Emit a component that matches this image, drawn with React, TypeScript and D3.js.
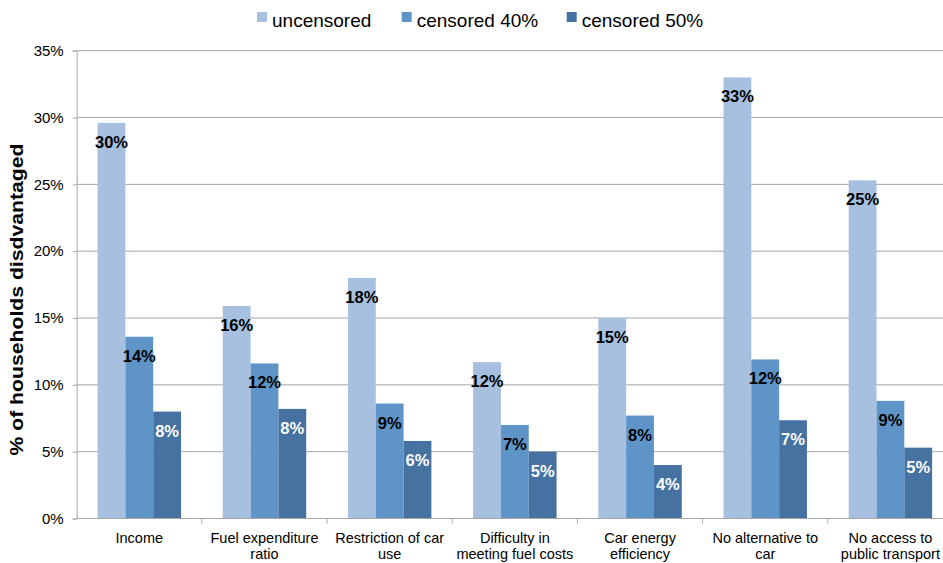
import * as d3 from "d3";
import { useEffect, useRef } from "react";

const categories: string[][] = [
  ["Income"],
  ["Fuel expenditure", "ratio"],
  ["Restriction of car", "use"],
  ["Difficulty in", "meeting fuel costs"],
  ["Car energy", "efficiency"],
  ["No alternative to", "car"],
  ["No access to", "public transport"],
];

const seriesNames = ["uncensored", "censored 40%", "censored 50%"];
const uncensored = [29.6, 15.9, 18.0, 11.7, 15.0, 33.0, 25.3];
const censored40 = [13.6, 11.6, 8.6, 7.0, 7.7, 11.9, 8.8];
const censored50 = [8.0, 8.2, 5.8, 5.0, 4.0, 7.35, 5.3];
const yTicks = [0, 5, 10, 15, 20, 25, 30, 35];

const colors = ["#a7c0df", "#5f94c8", "#4572a1"];
const labelColors = ["#000", "#000", "#fff"];

export default function App() {
  const width = 943;
  const height = 563;
  const marginLeft = 76.7;
  const marginTop = 50.7;
  const marginBottom = 44.5;
  const plotRight = 953;

  const svgRef = useRef<SVGSVGElement>(null);

  useEffect(() => {
    const svg = d3.select(svgRef.current);
    svg.selectAll("*").remove();

    const font = "Liberation Sans, Arial, sans-serif";
    const series = [uncensored, censored40, censored50];
    const idx = categories.map((_, i) => i);

    const x = d3.scaleBand<number>()
      .domain(idx)
      .range([marginLeft, plotRight])
      .paddingInner(0)
      .paddingOuter(0);
    // 150% gap width: group occupies 3/(3+1.5) of band
    const inner = d3.scaleBand<number>()
      .domain([0, 1, 2])
      .range([0, x.bandwidth()])
      .paddingOuter(0.75)
      .paddingInner(0);

    const y = d3.scaleLinear([0, 35], [height - marginBottom, marginTop]);

    // gridlines
    svg.append("g")
      .selectAll("line")
      .data(yTicks.filter(t => t > 0))
      .join("line")
      .attr("x1", marginLeft)
      .attr("x2", width)
      .attr("y1", d => y(d))
      .attr("y2", d => y(d))
      .attr("stroke", "#a6a6a6")
      .attr("stroke-width", 1);

    // bars
    series.forEach((vals, s) => {
      svg.append("g")
        .selectAll("rect")
        .data(vals)
        .join("rect")
        .attr("x", (_, i) => (x(i) ?? 0) + (inner(s) ?? 0))
        .attr("width", inner.bandwidth())
        .attr("y", d => y(d))
        .attr("height", d => y(0) - y(d))
        .attr("fill", colors[s]);
    });

    // value labels
    series.forEach((vals, s) => {
      svg.append("g")
        .selectAll("text")
        .data(vals)
        .join("text")
        .attr("x", (_, i) => (x(i) ?? 0) + (inner(s) ?? 0) + inner.bandwidth() / 2)
        .attr("y", d => y(d) + 25)
        .attr("text-anchor", "middle")
        .attr("font-family", font)
        .attr("font-weight", "bold")
        .attr("font-size", 16.5)
        .attr("fill", labelColors[s])
        .text(d => `${Math.round(d)}%`);
    });

    // y axis
    const yAxis = d3.axisLeft(y)
      .tickValues(yTicks)
      .tickSize(4)
      .tickPadding(9)
      .tickFormat(d => `${d}%`);
    const yg = svg.append("g")
      .attr("transform", `translate(${marginLeft},0)`)
      .call(yAxis);
    yg.select(".domain").attr("stroke", "#a6a6a6");
    yg.selectAll(".tick line").attr("stroke", "#a6a6a6");
    yg.selectAll(".tick text")
      .attr("font-family", font)
      .attr("font-size", 15)
      .attr("fill", "#000");

    // x axis
    const xAxisLine = svg.append("g");
    xAxisLine.append("line")
      .attr("x1", marginLeft)
      .attr("x2", width)
      .attr("y1", y(0))
      .attr("y2", y(0))
      .attr("stroke", "#a6a6a6");
    xAxisLine.selectAll("line.tk")
      .data(idx)
      .join("line")
      .attr("class", "tk")
      .attr("x1", d => (x(d) ?? 0) + x.bandwidth())
      .attr("x2", d => (x(d) ?? 0) + x.bandwidth())
      .attr("y1", y(0))
      .attr("y2", y(0) + 5)
      .attr("stroke", "#a6a6a6");

    const catG = svg.append("g")
      .selectAll("text")
      .data(categories)
      .join("text")
      .attr("text-anchor", "middle")
      .attr("font-family", font)
      .attr("font-size", 14.5)
      .attr("fill", "#000")
      .attr("transform", (_, i) => `translate(${(x(i) ?? 0) + x.bandwidth() / 2},${y(0) + 24})`);
    catG.selectAll("tspan")
      .data(d => d)
      .join("tspan")
      .attr("x", 0)
      .attr("dy", (_, j) => (j === 0 ? 0 : 16.5))
      .text(d => d);

    // y title
    svg.append("text")
      .attr("transform", `translate(23,299.5) rotate(-90)`)
      .attr("text-anchor", "middle")
      .attr("font-family", font)
      .attr("font-weight", "bold")
      .attr("font-size", 19)
      .attr("textLength", 312)
      .attr("lengthAdjust", "spacingAndGlyphs")
      .attr("fill", "#000")
      .text("% of households disdvantaged");

    // legend
    const legendX = [257, 401.7, 566.7];
    const lg = svg.append("g")
      .selectAll("g")
      .data(seriesNames)
      .join("g")
      .attr("transform", (_, i) => `translate(${legendX[i]},0)`);
    lg.append("rect")
      .attr("x", 0)
      .attr("y", 12)
      .attr("width", 10)
      .attr("height", 10)
      .attr("fill", (_, i) => colors[i]);
    lg.append("text")
      .attr("x", 15)
      .attr("y", 26.5)
      .attr("font-family", font)
      .attr("font-size", 19)
      .attr("fill", "#000")
      .text(d => d);
  }, []);

  return (
    <div style={{ position: "absolute", left: 0, top: 0 }}>
      <svg
        ref={svgRef}
        width={width}
        height={height}
        style={{ display: "block", background: "#fff" }}
        xmlns="http://www.w3.org/2000/svg"
      />
    </div>
  );
}
